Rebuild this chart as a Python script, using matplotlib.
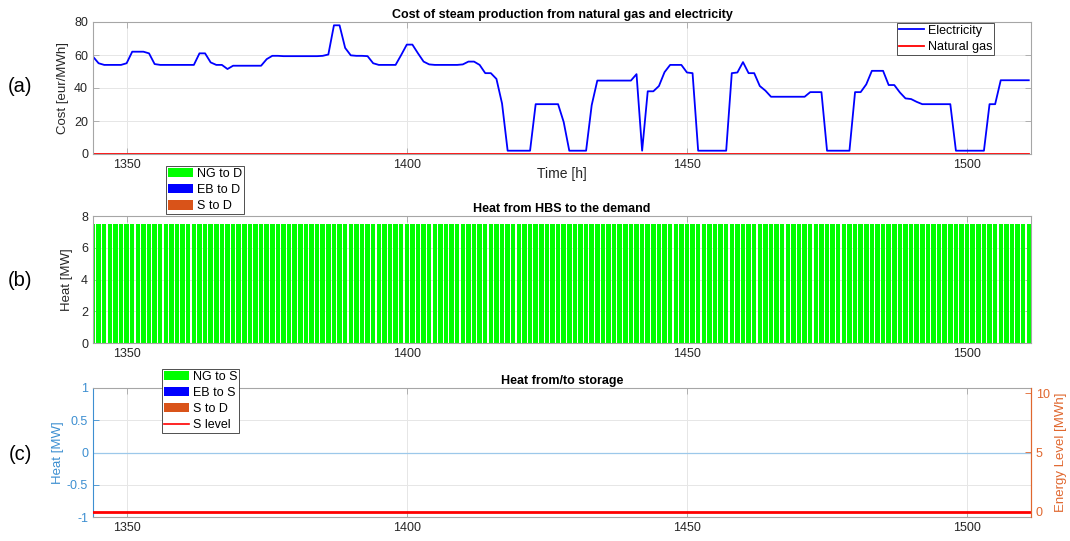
import numpy as np
import matplotlib
matplotlib.use("Agg")
import matplotlib.pyplot as plt
from matplotlib.patches import Patch
from matplotlib.lines import Line2D

plt.rcParams['font.family'] = ['Liberation Sans', 'DejaVu Sans']

# Hourly time axis
hours = np.arange(1344, 1512)

# Cost of steam production [eur/MWh]
electricity_cost = [
    59, 55, 54, 54, 54, 54, 55, 62, 62, 62,
    61, 54.5, 54, 54, 54, 54, 54, 54, 54, 61,
    61, 55.5, 54, 54, 51.5, 53.5, 53.5, 53.5, 53.5, 53.5,
    53.5, 57.5, 59.5, 59.5, 59.3, 59.3, 59.3, 59.3, 59.3, 59.3,
    59.3, 59.5, 60.3, 78, 78, 64.3, 59.8, 59.5, 59.5, 59.3,
    55, 54, 54, 54, 54, 60, 66.3, 66.3, 61, 56,
    54.3, 54, 54, 54, 54, 54, 54.3, 56, 56, 54,
    49, 49, 45.5, 30.6, 2, 2, 2, 2, 2, 30.2,
    30.2, 30.2, 30.2, 30.2, 19.4, 2, 2, 2, 2, 29.6,
    44.5, 44.5, 44.5, 44.5, 44.5, 44.5, 44.5, 48.4, 2, 38,
    38, 41.2, 49.6, 54, 54, 54, 49.4, 49, 2, 2,
    2, 2, 2, 2, 49, 49.4, 55.7, 49, 49, 41.2,
    38.4, 34.7, 34.7, 34.7, 34.7, 34.7, 34.7, 34.7, 37.5, 37.5,
    37.5, 2, 2, 2, 2, 2, 37.5, 37.5, 42.2, 50.4,
    50.4, 50.4, 41.8, 41.8, 37.3, 33.7, 33.3, 31.6, 30.2, 30.2,
    30.2, 30.2, 30.2, 30.2, 2, 2, 2, 2, 2, 2,
    30.2, 30.2, 44.7, 44.7, 44.7, 44.7, 44.7, 44.7,
]
natural_gas_cost = [0.0] * len(hours)

# Heat delivered to the demand [MW]
ng_to_demand = [7.5] * len(hours)
eb_to_demand = [0.0] * len(hours)
s_to_demand = [0.0] * len(hours)

# Storage flows [MW] and level [MWh]
ng_to_storage = [0.0] * len(hours)
eb_to_storage = [0.0] * len(hours)
s_to_d_storage = [0.0] * len(hours)
storage_level = [0.0] * len(hours)

x_ticks = [1350, 1400, 1450, 1500]

GREEN = '#00ff00'
BLUE = '#0000ff'
ORANGE = '#D95319'
RED = '#ff0000'
FRAME = '#a6a6a6'
TXT = '#262626'
LBLUE = '#3d8fd1'
LORANGE = '#e0672e'

fig = plt.figure(figsize=(10.70, 5.41), dpi=100)
W, H = 1070, 541


def axes_px(left, top, right, bottom):
    return fig.add_axes([left / W, 1 - bottom / H, (right - left) / W, (bottom - top) / H])


def style(ax, right_ticks=True):
    for s in ax.spines.values():
        s.set_color(FRAME)
        s.set_linewidth(0.8)
    ax.tick_params(direction='in', length=4, width=0.6, color=FRAME,
                   labelsize=9, labelcolor=TXT, top=True, right=right_ticks)
    ax.grid(True, color='#e6e6e6', linewidth=0.7)
    ax.set_axisbelow(True)
    ax.set_xlim(1344, 1511.4)
    ax.set_xticks(x_ticks)


leg_kw = dict(fontsize=9, frameon=True, fancybox=False, framealpha=1,
              edgecolor='#333333', borderpad=0.15, labelspacing=0.32,
              handlelength=2.0, handleheight=0.8, handletextpad=0.3,
              borderaxespad=0.0)

# (a) cost of steam
ax1 = axes_px(93, 22, 1031, 154)
style(ax1)
ax1.plot(hours, electricity_cost, color=BLUE, lw=1.3, label='Electricity')
ax1.plot(hours, natural_gas_cost, color=RED, lw=1.3, label='Natural gas')
ax1.set_ylim(0, 80)
ax1.set_yticks([0, 20, 40, 60, 80])
ax1.set_title('Cost of steam production from natural gas and electricity',
              fontsize=9, fontweight='bold', color='black', pad=3)
ax1.set_ylabel('Cost [eur/MWh]', fontsize=9.5, color=TXT, labelpad=4)
ax1.set_xlabel('Time [h]', fontsize=10, color=TXT, labelpad=-3)
leg = ax1.legend(loc='upper right', bbox_to_anchor=(994 / W, 1 - 23 / H),
                 bbox_transform=fig.transFigure, **leg_kw)
leg.get_frame().set_linewidth(0.6)

# (b) heat to demand
ax2 = axes_px(93, 216, 1031, 343)
style(ax2)
ax2.bar(hours, ng_to_demand, width=0.8, color=GREEN, label='NG to D', align='center')
ax2.bar(hours, eb_to_demand, width=0.8, bottom=ng_to_demand, color=BLUE, label='EB to D')
ax2.bar(hours, s_to_demand, width=0.8,
        bottom=np.add(ng_to_demand, eb_to_demand), color=ORANGE, label='S to D')
ax2.set_ylim(0, 8)
ax2.set_yticks([0, 2, 4, 6, 8])
ax2.set_title('Heat from HBS to the demand', fontsize=9, fontweight='bold',
              color='black', pad=3)
ax2.set_ylabel('Heat [MW]', fontsize=9.5, color=TXT, labelpad=6)
handles_b = [Patch(facecolor=GREEN, edgecolor='none'),
             Patch(facecolor=BLUE, edgecolor='none'),
             Patch(facecolor=ORANGE, edgecolor='none')]
leg = ax2.legend(handles_b, ['NG to D', 'EB to D', 'S to D'],
                 loc='lower left', bbox_to_anchor=(166 / W, 1 - 214 / H),
                 bbox_transform=fig.transFigure, **leg_kw)
leg.get_frame().set_linewidth(0.6)

# (c) storage
ax3 = axes_px(93, 388, 1031, 517)
style(ax3, right_ticks=False)
ax3.spines['left'].set_color(LBLUE)
ax3.spines['right'].set_color(LORANGE)
ax3.tick_params(axis='y', colors=LBLUE, labelcolor=LBLUE)
ax3.bar(hours, ng_to_storage, width=0.8, color=GREEN)
ax3.bar(hours, eb_to_storage, width=0.8, color=BLUE)
ax3.bar(hours, np.negative(s_to_d_storage), width=0.8, color=ORANGE)
ax3.axhline(0, color='#9cc8ea', lw=0.9, zorder=2)
ax3.set_ylim(-1, 1)
ax3.set_yticks([-1, -0.5, 0, 0.5, 1])
ax3.set_yticklabels(['-1', '-0.5', '0', '0.5', '1'])
ax3.set_ylabel('Heat [MW]', fontsize=9.5, color=LBLUE, labelpad=2)
ax3.set_title('Heat from/to storage', fontsize=9, fontweight='bold',
              color='black', pad=3)

ax3r = ax3.twinx()
ax3r.plot(hours, storage_level, color=RED, lw=2.0, zorder=5)
ax3r.set_ylim(-0.45, 10.45)
ax3r.set_yticks([0, 5, 10])
for s in ax3r.spines.values():
    s.set_visible(False)
ax3r.spines['right'].set_visible(True)
ax3r.spines['right'].set_color(LORANGE)
ax3r.spines['right'].set_linewidth(0.8)
ax3r.tick_params(axis='y', direction='in', length=4, width=0.6, colors=LORANGE,
                 labelcolor=LORANGE, labelsize=9)
ax3r.set_ylabel('Energy Level [MWh]', fontsize=9.5, color=LORANGE, labelpad=4)

handles_c = [Patch(facecolor=GREEN, edgecolor='none'),
             Patch(facecolor=BLUE, edgecolor='none'),
             Patch(facecolor=ORANGE, edgecolor='none'),
             Line2D([0], [0], color=RED, lw=1.2)]
leg = ax3r.legend(handles_c, ['NG to S', 'EB to S', 'S to D', 'S level'],
                  loc='lower left', bbox_to_anchor=(162 / W, 1 - 433 / H),
                  bbox_transform=fig.transFigure, **leg_kw)
leg.get_frame().set_linewidth(0.6)

# Panel tags
for tag, y in (('(a)', 87), ('(b)', 281), ('(c)', 455)):
    fig.text(20 / W, 1 - y / H, tag, fontsize=14.5, color='black',
             ha='center', va='center')

fig.savefig('out.png', dpi=100)
